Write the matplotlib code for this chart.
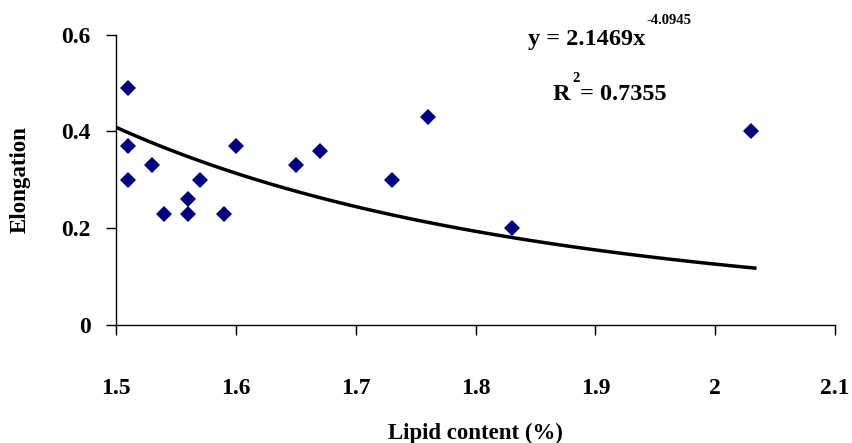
import numpy as np
import matplotlib
matplotlib.use("Agg")
import matplotlib.pyplot as plt

# Data
lipid = [1.51, 1.51, 1.51, 1.53, 1.54, 1.56, 1.56, 1.57, 1.59, 1.60,
         1.65, 1.67, 1.73, 1.76, 1.83, 2.03]
elong = [0.49, 0.37, 0.30, 0.33, 0.23, 0.26, 0.23, 0.30, 0.23, 0.37,
         0.33, 0.36, 0.30, 0.43, 0.20, 0.40]
# Power trendline coefficients shown on the chart
coef_a = 2.1469
coef_b = -4.0945
r2 = 0.7355
x_ticks = [1.5, 1.6, 1.7, 1.8, 1.9, 2.0, 2.1]
x_tick_labels = ["1.5", "1.6", "1.7", "1.8", "1.9", "2", "2.1"]
y_ticks = [0, 0.2, 0.4, 0.6]
y_tick_labels = ["0", "0.2", "0.4", "0.6"]

plt.rcParams['font.family'] = ['Liberation Serif', 'DejaVu Serif']
plt.rcParams['font.weight'] = 'bold'

fig = plt.figure(figsize=(8.53, 4.43), dpi=100)
ax = fig.add_axes([0.1363, 0.2664, 0.979 - 0.1363, 0.9221 - 0.2664])

xt = np.linspace(min(lipid) - 0.01, max(lipid) + 0.003, 60)
ax.plot(xt, coef_a * xt ** coef_b, color='black', lw=2.5, zorder=2)
ax.plot(lipid, elong, linestyle='none', marker='D', markersize=8,
        color='#000080', markeredgewidth=0, zorder=3)

ax.set_xlim(1.5, 2.1)
ax.set_ylim(0, 0.6)
ax.set_xticks(x_ticks)
ax.set_xticklabels(x_tick_labels)
ax.set_yticks(y_ticks)
ax.set_yticklabels(y_tick_labels)
ax.spines['top'].set_visible(False)
ax.spines['right'].set_visible(False)
for s in ('left', 'bottom'):
    ax.spines[s].set_linewidth(1.0)
    ax.spines[s].set_color('black')
ax.tick_params(axis='x', direction='out', length=7.2, width=1.0, pad=31,
               labelsize=17)
ax.tick_params(axis='y', direction='out', length=7.2, width=1.0, pad=11,
               labelsize=17)
for lab in ax.get_xticklabels() + ax.get_yticklabels():
    lab.set_fontweight('bold')

ax.set_xlabel("Lipid content (%)", fontsize=16.5, fontweight='bold')
ax.set_ylabel("Elongation", fontsize=16.5, fontweight='bold')
ax.xaxis.set_label_coords(0.5, (325 - 433) / (325 - 34.5), transform=ax.transAxes)
ax.yaxis.set_label_coords((20 - 116.3) / (835 - 116.3), 0.5, transform=ax.transAxes)
ax.xaxis.label.set_va('center')
ax.yaxis.label.set_va('center')

fig.text(528 / 853, 1 - 40 / 443, "y = %.4fx" % coef_a, fontsize=17.5,
         fontweight='bold', va='center', ha='left')
fig.text(647 / 853, 1 - 20 / 443, "%.4f" % coef_b, fontsize=10.5,
         fontweight='bold', va='center', ha='left')
fig.text(553 / 853, 1 - 95 / 443, "R", fontsize=17.5,
         fontweight='bold', va='center', ha='left')
fig.text(572 / 853, 1 - 79 / 443, "2", fontsize=10.5,
         fontweight='bold', va='center', ha='left')
fig.text(580 / 853, 1 - 95 / 443, "= %.4f" % r2, fontsize=17.5,
         fontweight='bold', va='center', ha='left')

fig.savefig("out.png", dpi=100, facecolor='white')
